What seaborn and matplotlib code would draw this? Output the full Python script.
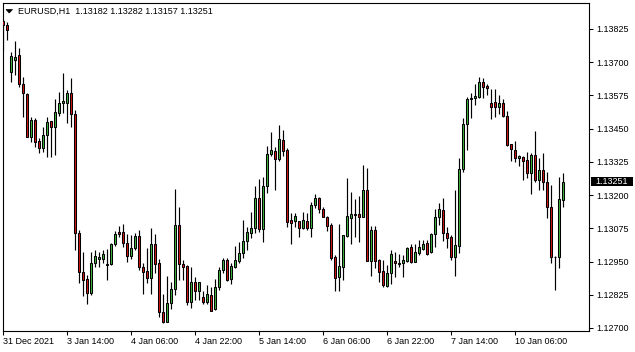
import matplotlib
matplotlib.use("Agg")
import matplotlib.pyplot as plt
from matplotlib.patches import Polygon, Rectangle
import seaborn as sns
import numpy as np
import pandas as pd

symbol = "EURUSD,H1"

opens = [1.13856, 1.13840, 1.13664, 1.13708, 1.13727, 1.13618, 1.13580, 1.13420, 1.13483, 1.13404,
         1.13376, 1.13426, 1.13479, 1.13458, 1.13510, 1.13548, 1.13545, 1.13583, 1.13505, 1.13056,
         1.12912, 1.12883, 1.12833, 1.12943, 1.12961, 1.12961, 1.12941, 1.12942, 1.13015, 1.13060,
         1.13060, 1.13019, 1.12972, 1.13000, 1.13046, 1.12928, 1.12914, 1.12889, 1.13016, 1.12943,
         1.12759, 1.12724, 1.12793, 1.12845, 1.13088, 1.12940, 1.12933, 1.12797, 1.12872, 1.12840,
         1.12817, 1.12797, 1.12824, 1.12770, 1.12853, 1.12918, 1.12956, 1.12884, 1.12931, 1.12953,
         1.12981, 1.13027, 1.13056, 1.13075, 1.13188, 1.13074, 1.13234, 1.13355, 1.13366, 1.13337,
         1.13407, 1.13370, 1.13106, 1.13104, 1.13102, 1.13077, 1.13102, 1.13075, 1.13163, 1.13188,
         1.13148, 1.13119, 1.13088, 1.12968, 1.12893, 1.12931, 1.13047, 1.13115, 1.13125, 1.13128,
         1.13119, 1.13219, 1.12953, 1.13069, 1.12956, 1.12914, 1.12859, 1.12908, 1.12952, 1.12941,
         1.12943, 1.12953, 1.13003, 1.12950, 1.12983, 1.12997, 1.13019, 1.12987, 1.13052, 1.13119,
         1.13144, 1.13056, 1.13044, 1.12968, 1.13010, 1.13297, 1.13466, 1.13560, 1.13564, 1.13568,
         1.13624, 1.13611, 1.13545, 1.13549, 1.13530, 1.13545, 1.13499, 1.13391, 1.13370, 1.13338,
         1.13345, 1.13332, 1.13284, 1.13351, 1.13257, 1.13294, 1.13248, 1.13157, 1.12968, 1.12966,
         1.13182]

highs = [1.13859, 1.13853, 1.13740, 1.13781, 1.13752, 1.13646, 1.13583, 1.13495, 1.13489, 1.13414,
         1.13458, 1.13495, 1.13479, 1.13560, 1.13589, 1.13658, 1.13596, 1.13639, 1.13520, 1.13069,
         1.12985, 1.12899, 1.12985, 1.12993, 1.12985, 1.12993, 1.12996, 1.13019, 1.13066, 1.13085,
         1.13091, 1.13054, 1.13050, 1.13056, 1.13069, 1.12943, 1.13000, 1.13075, 1.13054, 1.12958,
         1.12828, 1.12896, 1.12874, 1.13223, 1.13157, 1.12956, 1.12936, 1.12931, 1.12893, 1.12874,
         1.12840, 1.12862, 1.12855, 1.12883, 1.12931, 1.12962, 1.12962, 1.12943, 1.13009, 1.13025,
         1.13106, 1.13081, 1.13138, 1.13234, 1.13261, 1.13269, 1.13385, 1.13436, 1.13382, 1.13464,
         1.13445, 1.13376, 1.13131, 1.13131, 1.13104, 1.13138, 1.13131, 1.13175, 1.13204, 1.13192,
         1.13157, 1.13121, 1.13094, 1.12975, 1.13091, 1.13050, 1.13266, 1.13213, 1.13184, 1.13197,
         1.13313, 1.13303, 1.13084, 1.13084, 1.12958, 1.12956, 1.12937, 1.12993, 1.12985, 1.12978,
         1.12975, 1.13006, 1.13016, 1.13016, 1.13031, 1.13031, 1.13031, 1.13059, 1.13146, 1.13172,
         1.13188, 1.13081, 1.13050, 1.13219, 1.13338, 1.13489, 1.13570, 1.13583, 1.13618, 1.13646,
         1.13639, 1.13618, 1.13599, 1.13599, 1.13577, 1.13562, 1.13516, 1.13391, 1.13404, 1.13351,
         1.13348, 1.13361, 1.13357, 1.13441, 1.13338, 1.13357, 1.13288, 1.13238, 1.12971, 1.13267,
         1.13282]

lows = [1.13746, 1.13784, 1.13627, 1.13652, 1.13608, 1.13495, 1.13417, 1.13401, 1.13382, 1.13357,
        1.13363, 1.13345, 1.13345, 1.13351, 1.13498, 1.13508, 1.13470, 1.13458, 1.12993, 1.12868,
        1.12820, 1.12790, 1.12824, 1.12931, 1.12931, 1.12943, 1.12881, 1.12937, 1.13009, 1.13044,
        1.13006, 1.12950, 1.12960, 1.12993, 1.12918, 1.12828, 1.12868, 1.12827, 1.12906, 1.12743,
        1.12718, 1.12722, 1.12770, 1.12824, 1.12881, 1.12881, 1.12786, 1.12774, 1.12805, 1.12805,
        1.12790, 1.12790, 1.12763, 1.12768, 1.12843, 1.12906, 1.12878, 1.12866, 1.12924, 1.12943,
        1.12962, 1.12993, 1.13037, 1.13059, 1.13062, 1.13025, 1.13207, 1.13348, 1.13219, 1.13330,
        1.13347, 1.13081, 1.13016, 1.13081, 1.13044, 1.13071, 1.13069, 1.13044, 1.13150, 1.13131,
        1.13116, 1.13066, 1.12956, 1.12840, 1.12840, 1.12881, 1.13044, 1.13016, 1.13044, 1.13025,
        1.13116, 1.12951, 1.12896, 1.12924, 1.12874, 1.12855, 1.12855, 1.12866, 1.12891, 1.12931,
        1.12893, 1.12947, 1.12946, 1.12947, 1.12975, 1.12993, 1.12975, 1.12981, 1.13006, 1.13088,
        1.13029, 1.13000, 1.12956, 1.12896, 1.12983, 1.13288, 1.13370, 1.13489, 1.13539, 1.13564,
        1.13566, 1.13577, 1.13486, 1.13493, 1.13505, 1.13495, 1.13385, 1.13330, 1.13326, 1.13311,
        1.13257, 1.13266, 1.13203, 1.13251, 1.13219, 1.13219, 1.13113, 1.12943, 1.12843, 1.12924,
        1.13157]

closes = [1.13840, 1.13821, 1.13725, 1.13721, 1.13618, 1.13583, 1.13420, 1.13483, 1.13401, 1.13376,
          1.13426, 1.13476, 1.13458, 1.13511, 1.13545, 1.13555, 1.13583, 1.13505, 1.13056, 1.12912,
          1.12881, 1.12833, 1.12943, 1.12971, 1.12966, 1.12977, 1.12936, 1.13016, 1.13054, 1.13055,
          1.13019, 1.12972, 1.13000, 1.13046, 1.12928, 1.12912, 1.12889, 1.13016, 1.12940, 1.12759,
          1.12724, 1.12793, 1.12845, 1.13088, 1.12940, 1.12931, 1.12797, 1.12872, 1.12840, 1.12872,
          1.12797, 1.12827, 1.12765, 1.12853, 1.12918, 1.12956, 1.12881, 1.12933, 1.12956, 1.12981,
          1.13027, 1.13061, 1.13075, 1.13188, 1.13071, 1.13234, 1.13355, 1.13370, 1.13337, 1.13411,
          1.13367, 1.13100, 1.13096, 1.13121, 1.13077, 1.13106, 1.13077, 1.13163, 1.13188, 1.13146,
          1.13119, 1.13085, 1.12965, 1.12889, 1.12933, 1.13050, 1.13121, 1.13128, 1.13129, 1.13116,
          1.13219, 1.12953, 1.13069, 1.12953, 1.12912, 1.12862, 1.12906, 1.12978, 1.12943, 1.12946,
          1.12956, 1.13002, 1.12950, 1.12985, 1.13006, 1.13016, 1.12978, 1.13054, 1.13118, 1.13146,
          1.13056, 1.13040, 1.12968, 1.13012, 1.13297, 1.13467, 1.13560, 1.13564, 1.13573, 1.13624,
          1.13608, 1.13602, 1.13533, 1.13530, 1.13545, 1.13499, 1.13389, 1.13372, 1.13338, 1.13347,
          1.13330, 1.13284, 1.13351, 1.13257, 1.13294, 1.13251, 1.13157, 1.12966, 1.12966, 1.13184,
          1.13251]

time_labels = ["31 Dec 2021", "3 Jan 14:00", "4 Jan 06:00", "4 Jan 22:00", "5 Jan 14:00",
               "6 Jan 06:00", "6 Jan 22:00", "7 Jan 14:00", "10 Jan 06:00"]
label_step = 16
price_ticks = [1.12700, 1.12825, 1.12950, 1.13075, 1.13200, 1.13325, 1.13450, 1.13575, 1.13700, 1.13825]

# ---- styling ----
sns.set_theme(style="white")
plt.rcParams['font.family'] = ['Liberation Sans', 'DejaVu Sans']

BULL = "#3cb43c"
BEAR = "#d41414"
FS = 6.5

df = pd.DataFrame({"open": opens, "high": highs, "low": lows, "close": closes})
df["idx"] = np.arange(len(df))
df["bull"] = df["close"] > df["open"]
df["body_lo"] = df[["open", "close"]].min(axis=1)
df["body_h"] = (df["close"] - df["open"]).abs()

W, H = 635, 352
fig = plt.figure(figsize=(W / 100, H / 100), dpi=100)
fig.patch.set_facecolor("white")
ax_left, ax_right, ax_top, ax_bottom = 2.5, 589.0, 2.5, 331.0
ax = fig.add_axes([ax_left / W, 1 - ax_bottom / H, (ax_right - ax_left) / W, (ax_bottom - ax_top) / H])
ax.set_facecolor("white")

# wicks
ax.vlines(df["idx"], df["low"], df["high"], color="black", linewidth=0.85, zorder=2)
# bodies
ax.bar(df["idx"], df["body_h"], bottom=df["body_lo"], width=0.55,
       color=np.where(df["bull"], BULL, BEAR), edgecolor="black", linewidth=0.75, zorder=3)

ax.set_xlim(-0.125, 146.5)
ax.set_ylim(1.126886, 1.139247)

# spines
for s in ax.spines.values():
    s.set_color("black")
    s.set_linewidth(0.8)

# x ticks
xt = [i * label_step for i in range(len(time_labels))]
ax.set_xticks(xt)
ax.set_xticklabels(time_labels)
for lbl in ax.get_xticklabels():
    lbl.set_ha("left")
ax.tick_params(axis="x", bottom=True, top=False, direction="out", length=3, width=0.75,
               pad=1.5, labelsize=FS, colors="black")

# y ticks on the right
ax.yaxis.tick_right()
ax.set_yticks(price_ticks)
ax.set_yticklabels([f"{v:.5f}" for v in price_ticks])
ax.tick_params(axis="y", right=True, left=False, direction="out", length=3, width=0.75,
               pad=2, labelsize=FS, colors="black")
ax.set_xlabel("")
ax.set_ylabel("")

# current price tag
last = closes[-1]
axw_px = ax_right - ax_left
px_per_price = (ax_bottom - ax_top) / (1.139247 - 1.126886)
tag_h = 9.5 / px_per_price
ax.add_patch(Rectangle((1 + 2 / axw_px, last - tag_h / 2), 42 / axw_px, tag_h,
                       transform=ax.get_yaxis_transform(), facecolor="black",
                       edgecolor="none", clip_on=False, zorder=5))
ax.text(1 + 23 / axw_px, last, f"{last:.5f}", transform=ax.get_yaxis_transform(),
        ha="center", va="center", color="white", fontsize=FS, zorder=6, clip_on=False)

# header
tri = Polygon([(6 / W, 1 - 9.5 / H), (12.5 / W, 1 - 9.5 / H), (9.25 / W, 1 - 13 / H)],
              closed=True, transform=fig.transFigure, facecolor="black", edgecolor="black",
              linewidth=0.5)
fig.patches.append(tri)
header = f"{symbol}  {opens[-1]:.5f} {highs[-1]:.5f} {lows[-1]:.5f} {closes[-1]:.5f}"
fig.text(18 / W, 1 - 11 / H, header, ha="left", va="center", fontsize=FS, color="black")

fig.savefig("out.png", dpi=100, facecolor="white")
